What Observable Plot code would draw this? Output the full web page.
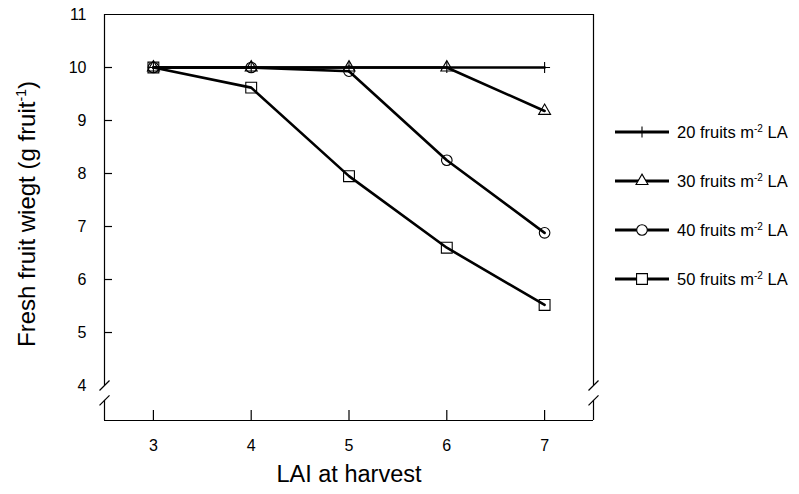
<!DOCTYPE html>
<html>
<head>
<meta charset="utf-8">
<script src="https://cdn.jsdelivr.net/npm/d3@7"></script>
<script src="https://cdn.jsdelivr.net/npm/@observablehq/plot@0.6"></script>
<style>
  html, body { margin: 0; padding: 0; background: #fff; }
  #wrap { position: relative; width: 799px; height: 494px; font-family: "Liberation Sans", Arial, sans-serif; }
  #ylabel { position: absolute; left: 27px; top: 214px; transform: translate(-50%, -50%) rotate(-90deg); white-space: nowrap; font-size: 24px; color: #000; }
  #ylabel sup { font-size: 14px; }
  #legend { position: absolute; left: 605px; top: 110px; }
</style>
</head>
<body>
<div id="wrap">
  <div id="chart"></div>
  <div id="ylabel">Fresh fruit wiegt (g fruit<sup>-1</sup>)</div>
  <div id="legend"></div>
</div>
<script>
// ---- data ----
const lai = [3, 4, 5, 6, 7];
const fw20 = [10, 10, 10, 10, 10];
const fw30 = [10, 10, 10, 10, 9.18];
const fw40 = [10, 10, 9.93, 8.25, 6.88];
const fw50 = [10, 9.62, 7.95, 6.6, 5.52];
const densities = [20, 30, 40, 50];
const xTicks = [3, 4, 5, 6, 7];
const yTickLabels = [4, 5, 6, 7, 8, 9, 10, 11];
const yTickMarks = [5, 6, 7, 8, 9, 10];
const xLabel = "LAI at harvest";

// ---- styles / layout ----
const symbolOf = {20: "plus", 30: "triangle2", 40: "circle", 50: "square2"};
const rOf = {20: 3.6, 30: 5.7, 40: 5.3, 50: 6.9};
const width = 799, height = 494;
const mL = 104, mR = 206, mT = 14, mB = 74;
const xDomain = [2.5, 7.5];
const yDomain = [3.34, 11];
const breakHi = 4.0, breakLo = 3.72; // axis-break gap in y units

const allSeries = [fw20, fw30, fw40, fw50];
const rows = [];
densities.forEach((d, i) => lai.forEach((x, j) => rows.push({density: d, lai: x, fw: allSeries[i][j]})));

const slash = {draw(ctx, size) { const s = 5; ctx.moveTo(-s, s); ctx.lineTo(s, -s); }};
const breaks = [];
for (const x of xDomain) for (const y of [breakHi, breakLo]) breaks.push({x, y});

const plotW = width - mL - mR, plotH = height - mT - mB;

const chart = Plot.plot({
  width, height,
  marginLeft: mL, marginRight: mR, marginTop: mT, marginBottom: mB,
  style: {fontFamily: "'Liberation Sans', Arial, sans-serif", fontSize: "16px", color: "#000", background: "#fff"},
  x: {domain: xDomain},
  y: {domain: yDomain},
  marks: [
    // frame
    Plot.ruleY([yDomain[1], yDomain[0]], {stroke: "#000", strokeWidth: 1.2}),
    Plot.ruleX(xDomain, {y1: yDomain[1], y2: breakHi, stroke: "#000", strokeWidth: 1.2}),
    Plot.ruleX(xDomain, {y1: breakLo, y2: yDomain[0], stroke: "#000", strokeWidth: 1.2}),
    Plot.dot(breaks, {x: "x", y: "y", symbol: slash, r: 3, stroke: "#000", strokeWidth: 1.2}),
    // inward ticks
    Plot.tickY(yTickMarks, {y: d => d, insetRight: plotW - 8, stroke: "#000", strokeWidth: 1.2}),
    Plot.tickX(xTicks, {x: d => d, insetTop: plotH - 10, stroke: "#000", strokeWidth: 1.2}),
    // axes labels
    Plot.axisY(yTickLabels, {tickSize: 0, tickPadding: 18, label: null, fontSize: 16, tickFormat: d => String(d)}),
    Plot.axisX(xTicks, {tickSize: 0, tickPadding: 19, label: null, fontSize: 16, tickFormat: d => String(d)}),
    Plot.text([xLabel], {frameAnchor: "bottom", dy: 61, fontSize: 23.5, text: d => d}),
    // data
    Plot.line(rows, {x: "lai", y: "fw", z: "density", stroke: "#000", strokeWidth: 2.6}),
    ...densities.map(d => Plot.dot(rows.filter(r => r.density === d), {
      x: "lai", y: "fw", symbol: symbolOf[d], r: rOf[d], stroke: "#000", strokeWidth: 1.1, fill: "none"
    }))
  ]
});
document.getElementById("chart").appendChild(chart);

// ---- legend ----
const lg = d3.select("#legend").append("svg").attr("width", 194).attr("height", 190);
const rowY = [22, 71, 120, 169];
const symMap = {plus: d3.symbolPlus, triangle2: d3.symbolTriangle2, circle: d3.symbolCircle, square2: d3.symbolSquare2};
densities.forEach((d, i) => {
  const g = lg.append("g").attr("transform", `translate(0,${rowY[i]})`);
  g.append("line").attr("x1", 10).attr("x2", 64).attr("y1", 0).attr("y2", 0).attr("stroke", "#000").attr("stroke-width", 3);
  g.append("path").attr("transform", "translate(37,0)")
    .attr("d", d3.symbol(symMap[symbolOf[d]], Math.PI * rOf[d] * rOf[d])())
    .attr("fill", d === 20 ? "none" : "#fff").attr("stroke", "#000").attr("stroke-width", 1.1);
  const t = g.append("text").attr("x", 72).attr("y", 6)
    .attr("font-family", "'Liberation Sans', Arial, sans-serif").attr("font-size", 16.5).attr("fill", "#000");
  t.append("tspan").text(`${d} fruits m`);
  t.append("tspan").attr("font-size", 10).attr("dy", -6).text("-2");
  t.append("tspan").attr("dy", 6).text(" LA");
});
</script>
</body>
</html>
